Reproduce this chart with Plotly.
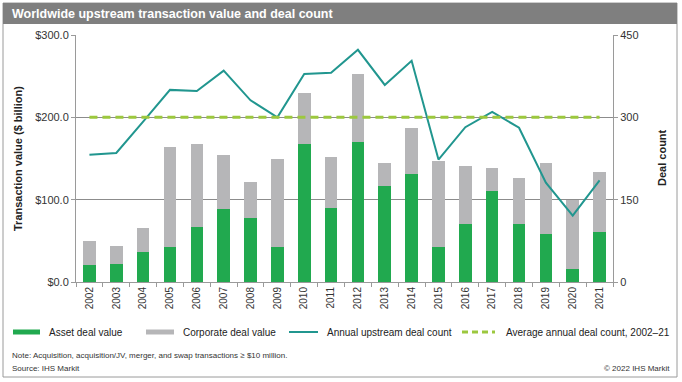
import plotly.graph_objects as go

years = [str(y) for y in range(2002, 2022)]
asset_value = [21, 22, 36, 43, 67, 89, 78, 42, 168, 90, 170, 117, 131, 43, 71, 111, 70, 58, 16, 61]
corporate_value = [29, 22, 30, 121, 101, 65, 43, 107, 61, 62, 83, 28, 56, 104, 70, 27, 56, 87, 84, 73]
deal_count = [232, 235, 292, 350, 348, 385, 331, 300, 379, 381, 423, 359, 403, 223, 282, 310, 281, 181, 121, 185]
avg_deal_count = 300
left_ticks = [0, 100, 200, 300]
left_tick_labels = ["$0.0", "$100.0", "$200.0", "$300.0"]
right_ticks = [0, 150, 300, 450]

W, H = 682, 382
L, R, T, B = 76, 613, 35, 282
PW, PH = R - L, B - T

def px(x):
    return (x - L) / PW

def py(y):
    return (B - y) / PH

GREEN = "#21a94f"
GRAY = "#b6b6b8"
TEAL = "#21968f"
LIME = "#9cc83e"
AXIS = "#9a9a9a"
FONT = "Liberation Sans, Arial, sans-serif"

fig = go.Figure()
fig.add_trace(go.Bar(x=years, y=asset_value, name="Asset deal value",
                     marker=dict(color=GREEN, line=dict(width=0)), showlegend=False))
fig.add_trace(go.Bar(x=years, y=corporate_value, name="Corporate deal value",
                     marker=dict(color=GRAY, line=dict(width=0)), showlegend=False))
fig.add_trace(go.Scatter(x=years, y=deal_count, name="Annual upstream deal count",
                         mode="lines", line=dict(color=TEAL, width=2), yaxis="y2", showlegend=False))
fig.add_trace(go.Scatter(x=years, y=[avg_deal_count] * len(years),
                         name="Average annual deal count, 2002–21",
                         mode="lines", line=dict(color=LIME, width=3, dash="8px,5px"),
                         yaxis="y2", showlegend=False))

fig.update_layout(
    width=W, height=H,
    margin=dict(l=L, r=W - R, t=T, b=H - B, pad=0),
    paper_bgcolor="white", plot_bgcolor="white",
    barmode="stack", bargap=0.53,
    font=dict(family=FONT, color="#333333", size=11),
    xaxis=dict(type="category", tickangle=-90, tickfont=dict(size=10, color="#333"),
               showline=True, linecolor=AXIS, linewidth=1, ticks="outside",
               tickson="boundaries", ticklen=4, tickcolor=AXIS, showgrid=False),
    yaxis=dict(range=[0, 300], tickvals=left_ticks, ticktext=left_tick_labels,
               showgrid=True, gridcolor="#8c8c8c", gridwidth=1, showline=True,
               linecolor=AXIS, ticks="outside", ticklen=4, tickcolor=AXIS,
               tickfont=dict(size=11, color="#333"), zeroline=False),
    yaxis2=dict(range=[0, 450], tickvals=right_ticks, overlaying="y", side="right",
                showgrid=False, showline=True, linecolor=AXIS, ticks="outside",
                ticklen=4, tickcolor=AXIS, tickfont=dict(size=11, color="#333"),
                zeroline=False),
)

shapes = []
annotations = []
# outer border and title bar
shapes.append(dict(type="rect", xref="paper", yref="paper", x0=px(3), x1=px(677), y0=py(377), y1=py(3),
                   line=dict(color="#9a9a9a", width=1), fillcolor="rgba(0,0,0,0)", layer="below"))
shapes.append(dict(type="rect", xref="paper", yref="paper", x0=px(3), x1=px(677), y0=py(24), y1=py(3),
                   line=dict(width=0), fillcolor="#7f7f7f", layer="below"))
annotations.append(dict(text="<b>Worldwide upstream transaction value and deal count</b>", xref="paper", yref="paper",
                        x=px(10), y=py(14), xanchor="left", yanchor="middle", showarrow=False,
                        font=dict(size=12.5, color="white", family=FONT)))
# axis titles
annotations.append(dict(text="<b>Transaction value ($ billion)</b>", xref="paper", yref="paper",
                        x=px(18), y=py(159), textangle=-90, showarrow=False,
                        xanchor="center", yanchor="middle", font=dict(size=11, color="#222")))
annotations.append(dict(text="<b>Deal count</b>", xref="paper", yref="paper",
                        x=px(662), y=py(158), textangle=-90, showarrow=False,
                        xanchor="center", yanchor="middle", font=dict(size=11, color="#222")))
# legend
ly = 332
shapes.append(dict(type="rect", xref="paper", yref="paper", x0=px(13), x1=px(40), y0=py(334.5), y1=py(329.5),
                   line=dict(width=0), fillcolor=GREEN))
shapes.append(dict(type="rect", xref="paper", yref="paper", x0=px(146), x1=px(174), y0=py(334.5), y1=py(329.5),
                   line=dict(width=0), fillcolor=GRAY))
shapes.append(dict(type="line", xref="paper", yref="paper", x0=px(289), x1=px(318), y0=py(ly), y1=py(ly),
                   line=dict(color=TEAL, width=2)))
shapes.append(dict(type="line", xref="paper", yref="paper", x0=px(462), x1=px(495), y0=py(ly), y1=py(ly),
                   line=dict(color=LIME, width=3, dash="6px,4px")))
for x, t in [(47, "Asset deal value"), (181, "Corporate deal value"),
             (325, "Annual upstream deal count"), (504, "Average annual deal count, 2002–21")]:
    annotations.append(dict(text=t, xref="paper", yref="paper", x=px(x), y=py(ly),
                            xanchor="left", yanchor="middle", showarrow=False,
                            font=dict(size=10, color="#222")))
# notes
annotations.append(dict(text="Note: Acquisition, acquisition/JV, merger, and swap transactions ≥ $10 million.",
                        xref="paper", yref="paper", x=px(10), y=py(355), xanchor="left", yanchor="middle",
                        showarrow=False, font=dict(size=8, color="#333")))
annotations.append(dict(text="Source: IHS Markit", xref="paper", yref="paper", x=px(10), y=py(368),
                        xanchor="left", yanchor="middle", showarrow=False, font=dict(size=8, color="#333")))
annotations.append(dict(text="© 2022 IHS Markit", xref="paper", yref="paper", x=px(672), y=py(368),
                        xanchor="right", yanchor="middle", showarrow=False, font=dict(size=8, color="#333")))

fig.update_layout(shapes=shapes, annotations=annotations)
fig.write_html("out.html", config={"displayModeBar": False},
               post_script="document.body.style.margin='0';document.body.style.overflow='hidden';")
